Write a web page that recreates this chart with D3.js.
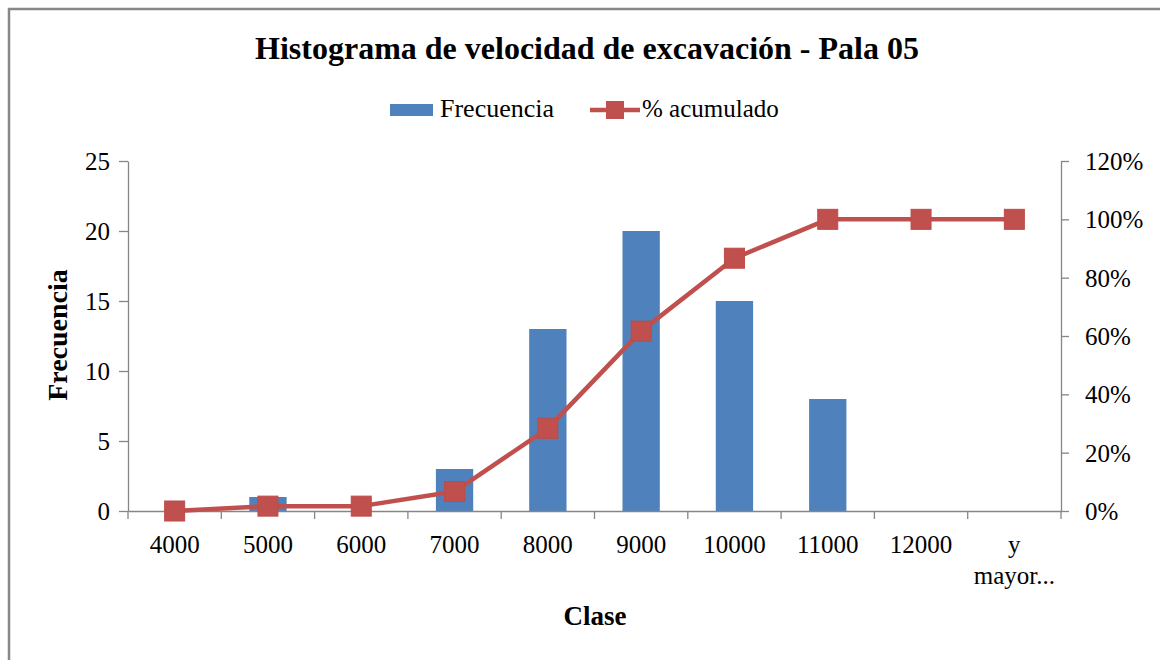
<!DOCTYPE html>
<html>
<head>
<meta charset="utf-8">
<script src="https://cdn.jsdelivr.net/npm/d3@7/dist/d3.min.js"></script>
<style>
  html, body { margin: 0; padding: 0; background: #fff; }
  svg { display: block; font-family: "Liberation Serif", "Times New Roman", serif; }
</style>
</head>
<body>
<svg id="chart" width="1160" height="660"></svg>
<script>
// Histogram classes (upper bounds) and counts
const classes = ["4000", "5000", "6000", "7000", "8000", "9000", "10000", "11000", "12000", "y mayor..."];
const frequency = [0, 1, 0, 3, 13, 20, 15, 8, 0, 0];
// Cumulative share per class
const cumulative = [0, 0.0167, 0.0167, 0.0667, 0.2833, 0.6167, 0.8667, 1.0, 1.0, 1.0];
const leftTicks = [0, 5, 10, 15, 20, 25];
const rightTicks = [0, 0.2, 0.4, 0.6, 0.8, 1.0, 1.2];

const svg = d3.select("#chart");
const W = 1160, H = 660;
const m = { left: 128, right: 1061, top: 161, bottom: 511 };

const blue = "#4F81BD", red = "#C0504D", axisGray = "#868686";

// Frame around the chart area
svg.append("rect")
  .attr("x", 9).attr("y", 9)
  .attr("width", W + 20).attr("height", H + 20)
  .attr("fill", "#fff").attr("stroke", "#888").attr("stroke-width", 2.5);

const x = d3.scaleBand().domain(classes).range([m.left, m.right]).paddingInner(0).paddingOuter(0);
const yL = d3.scaleLinear().domain([0, 25]).range([m.bottom, m.top]);
const yR = d3.scaleLinear().domain([0, 1.2]).range([m.bottom, m.top]);

// Title
svg.append("text")
  .attr("x", 587).attr("y", 59)
  .attr("text-anchor", "middle")
  .attr("font-weight", "bold").attr("font-size", 32)
  .text("Histograma de velocidad de excavación - Pala 05");

// Legend
const lg = svg.append("g");
lg.append("rect").attr("x", 390).attr("y", 104).attr("width", 43).attr("height", 12).attr("fill", blue);
lg.append("text").attr("x", 440).attr("y", 117).attr("font-size", 26).text("Frecuencia");
lg.append("line").attr("x1", 590).attr("x2", 640).attr("y1", 110).attr("y2", 110)
  .attr("stroke", red).attr("stroke-width", 4.5);
lg.append("rect").attr("x", 606).attr("y", 101).attr("width", 18).attr("height", 18).attr("fill", red);
lg.append("text").attr("x", 642).attr("y", 117).attr("font-size", 25).text("% acumulado");

// Bars
svg.append("g").selectAll("rect")
  .data(classes.map((c, i) => ({ c, v: frequency[i] })))
  .join("rect")
  .attr("x", d => x(d.c) + x.bandwidth() * 0.3)
  .attr("width", x.bandwidth() * 0.4)
  .attr("y", d => yL(d.v))
  .attr("height", d => yL(0) - yL(d.v))
  .attr("fill", blue);

// Left axis
const gL = svg.append("g").attr("transform", `translate(${m.left},0)`)
  .call(d3.axisLeft(yL).tickValues(leftTicks).tickSize(9).tickSizeOuter(0).tickPadding(9));
// Right axis
const gR = svg.append("g").attr("transform", `translate(${m.right},0)`)
  .call(d3.axisRight(yR).tickValues(rightTicks).tickFormat(d3.format(".0%")).tickSize(8).tickSizeOuter(0).tickPadding(16));
// Bottom axis: ticks at class boundaries
const gB = svg.append("g").attr("transform", `translate(0,${m.bottom})`)
  .call(d3.axisBottom(x).tickSize(0).tickPadding(0));
gB.selectAll(".tick text").remove();
const boundaries = d3.range(classes.length + 1).map(i => m.left + i * x.step());
gB.selectAll("line.bnd").data(boundaries).join("line").attr("class", "bnd")
  .attr("x1", d => d).attr("x2", d => d).attr("y1", 0).attr("y2", 8);

[gL, gR, gB].forEach(g => {
  g.selectAll("path, line").attr("stroke", axisGray).attr("stroke-width", 1.3);
  g.selectAll("text").attr("font-size", 25).attr("fill", "#000")
    .attr("font-family", "Liberation Serif, Times New Roman, serif");
});
gL.selectAll(".tick text").attr("dy", "0.34em");
gR.selectAll(".tick text").attr("dy", "0.34em");

// Category labels (multi-line where needed)
const lab = svg.append("g").attr("font-size", 25).attr("text-anchor", "middle");
classes.forEach(c => {
  const parts = c === "y mayor..." ? ["y", "mayor..."] : [c];
  const t = lab.append("text").attr("x", x(c) + x.bandwidth() / 2).attr("y", 553);
  parts.forEach((p, i) => t.append("tspan").attr("x", x(c) + x.bandwidth() / 2).attr("dy", i === 0 ? 0 : 31).text(p));
});

// Cumulative line with square markers
const pts = classes.map((c, i) => [x(c) + x.bandwidth() / 2, yR(cumulative[i])]);
svg.append("path").attr("d", d3.line()(pts))
  .attr("fill", "none").attr("stroke", red).attr("stroke-width", 4.5).attr("stroke-linejoin", "round");
svg.append("g").selectAll("rect").data(pts).join("rect")
  .attr("x", d => d[0] - 10).attr("y", d => d[1] - 10)
  .attr("width", 20).attr("height", 20)
  .attr("fill", red).attr("stroke", "#BE4B48").attr("stroke-width", 1);

// Axis titles
svg.append("text")
  .attr("transform", "translate(67,335) rotate(-90)")
  .attr("text-anchor", "middle").attr("font-weight", "bold").attr("font-size", 28)
  .text("Frecuencia");
svg.append("text")
  .attr("x", 595).attr("y", 625)
  .attr("text-anchor", "middle").attr("font-weight", "bold").attr("font-size", 27)
  .text("Clase");
</script>
</body>
</html>
